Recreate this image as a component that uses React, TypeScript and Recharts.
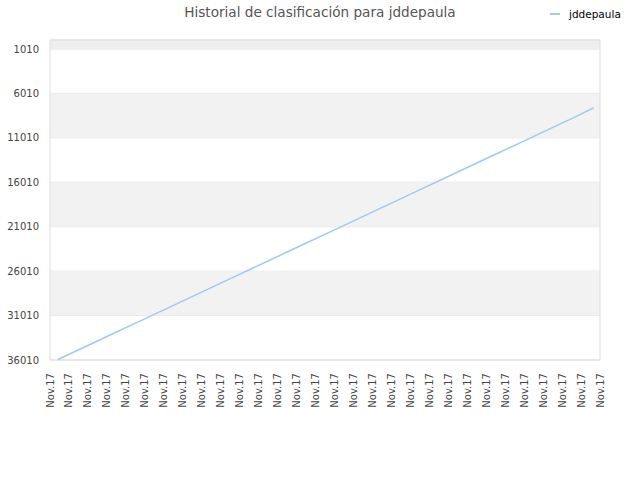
import { LineChart, Line, XAxis, YAxis, CartesianGrid, ReferenceArea } from 'recharts';

// x position of each sample on the day axis, and the rank
const positions = [
  0.42, 1.43, 2.44, 3.45, 4.46, 5.47, 6.48, 7.49, 8.5, 9.51,
  10.51, 11.52, 12.53, 13.54, 14.55, 15.56, 16.57, 17.58, 18.59, 19.6,
  20.6, 21.61, 22.62, 23.63, 24.64, 25.65, 26.66, 27.67, 28.67,
];
const ranks = [
  35950, 34940, 33930, 32920, 31910, 30900, 29890, 28880, 27870, 26860,
  25850, 24840, 23830, 22820, 21810, 20800, 19790, 18780, 17770, 16760,
  15750, 14740, 13730, 12720, 11710, 10700, 9690, 8680, 7620,
];
const xTickLabels = [
  'Nov.17', 'Nov.17', 'Nov.17', 'Nov.17', 'Nov.17', 'Nov.17', 'Nov.17', 'Nov.17', 'Nov.17', 'Nov.17',
  'Nov.17', 'Nov.17', 'Nov.17', 'Nov.17', 'Nov.17', 'Nov.17', 'Nov.17', 'Nov.17', 'Nov.17', 'Nov.17',
  'Nov.17', 'Nov.17', 'Nov.17', 'Nov.17', 'Nov.17', 'Nov.17', 'Nov.17', 'Nov.17', 'Nov.17', 'Nov.17',
];
const yTicks = [1010, 6010, 11010, 16010, 21010, 26010, 31010, 36010];

const data = positions.map((p, i) => ({ x: p, rank: ranks[i] }));
const xTicks = xTickLabels.map((_, i) => i);

const lineColor = '#9ecaf5';
const font = '"DejaVu Sans", sans-serif';

const XTick = (props: any) => {
  const { x, y, payload } = props;
  return (
    <text
      x={x}
      y={y}
      transform={`rotate(-90 ${x} ${y})`}
      textAnchor="end"
      dominantBaseline="central"
      fontSize={10}
      fontFamily={font}
      fill="#444"
    >
      {xTickLabels[payload.value]}
    </text>
  );
};

export default function App() {
  return (
    <div style={{ position: 'absolute', left: 0, top: 0, width: 640, height: 480, background: '#fff' }}>
      <div
        style={{
          position: 'absolute', left: 0, top: 4, width: 640, textAlign: 'center',
          fontFamily: font, fontSize: 13.6, color: '#555',
        }}
      >
        Historial de clasificación para jddepaula
      </div>
      <div
        style={{
          position: 'absolute', left: 550, top: 8, display: 'flex', alignItems: 'center',
          fontFamily: font, fontSize: 10.5, color: '#000',
        }}
      >
        <span style={{ display: 'inline-block', width: 10, height: 2, background: lineColor, marginRight: 9 }} />
        <span>jddepaula</span>
      </div>
      <LineChart width={640} height={480} data={data} margin={{ top: 40, right: 40, bottom: 70, left: 0 }}>
        <ReferenceArea x1={0} x2={29} y1={0} y2={yTicks[0]} fill="#eeeeee" fillOpacity={1} stroke="none" />
        {[1, 3, 5].map((i) => (
          <ReferenceArea key={i} x1={0} x2={29} y1={yTicks[i]} y2={yTicks[i + 1]} fill="#f2f2f2" fillOpacity={1} stroke="none" />
        ))}
        <CartesianGrid vertical={false} stroke="#e2e2e2" />
        <ReferenceArea x1={0} x2={29} y1={0} y2={yTicks[yTicks.length - 1]} fill="none" stroke="#dddddd" />
        <XAxis
          dataKey="x"
          type="number"
          domain={[0, 29]}
          ticks={xTicks}
          interval={0}
          height={50}
          axisLine={false}
          tickLine={false}
          tickMargin={7}
          tick={<XTick />}
        />
        <YAxis
          type="number"
          reversed
          domain={[0, 36010]}
          ticks={yTicks}
          interval={0}
          width={50}
          axisLine={false}
          tickLine={false}
          tickMargin={5}
          tick={{ fontSize: 10, fontFamily: font, fill: '#444' }}
        />
        <Line
          type="linear"
          dataKey="rank"
          stroke={lineColor}
          strokeWidth={1.5}
          dot={false}
          isAnimationActive={false}
        />
      </LineChart>
    </div>
  );
}
